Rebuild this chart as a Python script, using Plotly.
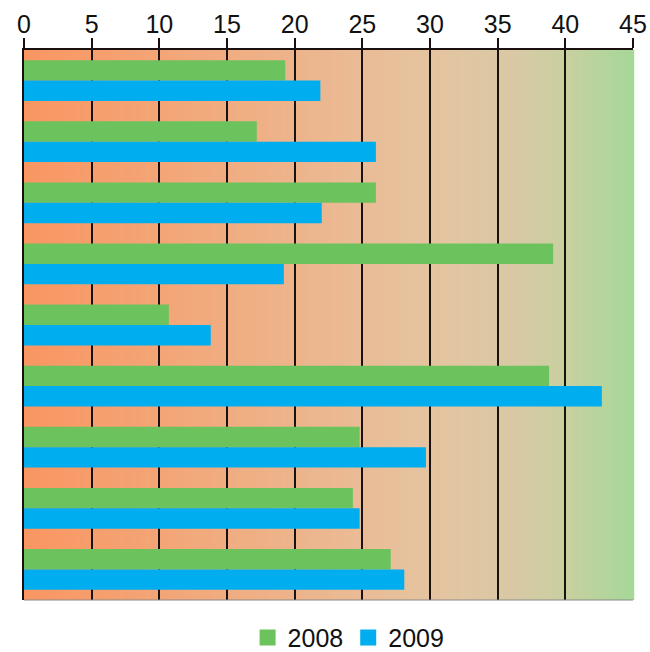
import plotly.graph_objects as go

categories = ["1", "2", "3", "4", "5", "6", "7", "8", "9"]
values_2008 = [19.3, 17.2, 26.0, 39.1, 10.7, 38.8, 24.8, 24.3, 27.1]
values_2009 = [21.9, 26.0, 22.0, 19.2, 13.8, 42.7, 29.7, 24.8, 28.1]
tick_values = [0, 5, 10, 15, 20, 25, 30, 35, 40, 45]
series_names = ["2008", "2009"]
series_colors = ["#6CC35E", "#00AEEF"]

fig = go.Figure()
for name, vals, col in zip(series_names, [values_2008, values_2009], series_colors):
    fig.add_trace(go.Bar(y=categories, x=vals, orientation="h", name=name,
                         marker=dict(color=col, line=dict(width=0)), showlegend=False))
# legend entries with larger square swatches
for name, col in zip(series_names, series_colors):
    fig.add_trace(go.Scatter(x=[None], y=[None], mode="markers", name=name,
                             marker=dict(symbol="square", size=20, color=col, line=dict(width=0))))

# gradient background (orange -> tan -> green)
stops = [(0.0, (249, 150, 98)), (0.45, (237, 180, 140)), (0.67, (229, 196, 160)),
         (0.80, (218, 200, 165)), (0.89, (200, 208, 160)), (1.0, (166, 216, 152))]

def interp(t):
    for (t0, c0), (t1, c1) in zip(stops[:-1], stops[1:]):
        if t0 <= t <= t1:
            f = (t - t0) / (t1 - t0)
            return tuple(round(a + (b - a) * f) for a, b in zip(c0, c1))
    return stops[-1][1]

n = 120
shapes = []
for i in range(n):
    t = (i + 0.5) / n
    c = interp(t)
    shapes.append(dict(type="rect", xref="x domain", yref="y domain",
                       x0=i / n, x1=(i + 1) / n + 0.002, y0=0, y1=1,
                       fillcolor="rgb(%d,%d,%d)" % c, line=dict(width=0),
                       layer="below"))
shapes.append(dict(type="line", xref="x domain", yref="y domain", x0=0, x1=1, y0=0, y1=0,
                   line=dict(color="#8a8a8a", width=1), layer="above"))

fig.update_layout(
    width=650, height=652,
    margin=dict(l=24, r=17, t=50, b=52, autoexpand=False),
    paper_bgcolor="white", plot_bgcolor="white",
    barmode="group", bargap=0.333, bargroupgap=0,
    shapes=shapes,
    font=dict(family="Liberation Sans, Arial, sans-serif", color="#111111"),
    legend=dict(orientation="h", x=0.533, xanchor="center", y=-0.027, yanchor="top",
                font=dict(size=25), itemwidth=30, traceorder="normal"),
    showlegend=True,
)
fig.update_xaxes(side="top", range=[0, 45], tickvals=tick_values,
                 showgrid=True, gridcolor="#1a1010", gridwidth=2,
                 showline=True, linecolor="#1a1010", linewidth=2,
                 ticks="outside", ticklen=10, tickwidth=2, tickcolor="#1a1010",
                 ticklabelstandoff=-5,
                 tickfont=dict(size=25, color="#111111"), zeroline=False,
                 automargin=False, fixedrange=True)
fig.update_yaxes(autorange="reversed", showticklabels=False, showgrid=False,
                 showline=True, linecolor="#1a1010", linewidth=2, ticks="",
                 zeroline=False, automargin=False, fixedrange=True)

fig.write_html("out.html", config={"displayModeBar": False},
               post_script="document.body.style.margin='0px';document.body.style.overflow='hidden';")
